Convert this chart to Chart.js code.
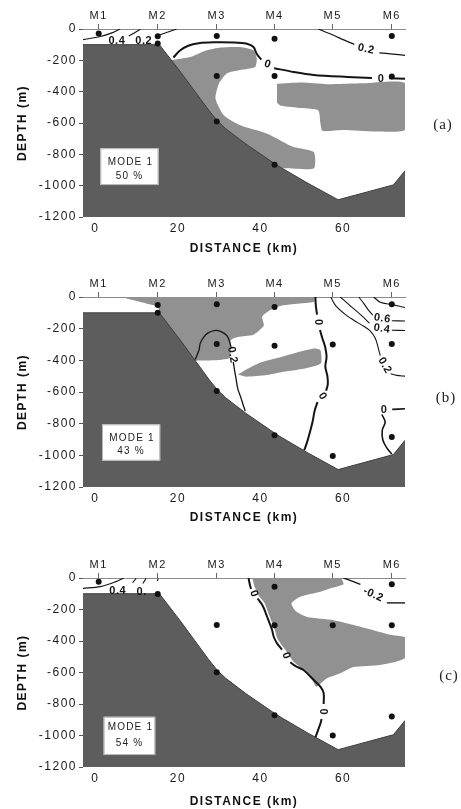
<!DOCTYPE html>
<html><head><meta charset="utf-8">
<script src="https://cdn.jsdelivr.net/npm/chart.js@4.4.1/dist/chart.umd.min.js"></script>
<style>
html,body{margin:0;padding:0;background:#fff;}
body{width:461px;height:809px;overflow:hidden;position:relative;}
canvas{position:absolute;left:0;}
</style></head><body>
<canvas id="pa"></canvas><canvas id="pb"></canvas><canvas id="pc"></canvas>
<script>
// ---------- axes / categories ----------
const mooringNames = ['M1','M2','M3','M4','M5','M6'];
const mooringKm = [0.8, 15.1, 29.4, 43.4, 57.5, 71.8];
const xTickValues = [0, 20, 40, 60];
const xTickLabels = ['0','20','40','60'];
const yTickValues = [0,-200,-400,-600,-800,-1000,-1200];
const yTickLabels = ['0','-200','-400','-600','-800','-1000','-1200'];
const modeLabel = 'MODE 1';
const modePercent = ['50 %','43 %','54 %'];
const panelLetters = ['(a)','(b)','(c)'];

// ---------- bathymetry ----------
const bathyKm =    [-3, 15.5, 20.5, 24, 27.5, 29.5, 31.5, 33.5, 36.5, 44, 51.5, 58.8, 72.2, 75];
const bathyDepth = [-100,-100,-270,-395,-520,-585,-635,-675,-735,-870,-985,-1090,-995,-905];

// ---------- instruments (mooring index, depth m) ----------
const instA_mooring = [0,1,1,2,2,2,3,3,3,5,5];
const instA_depth   = [-28,-47,-93,-45,-300,-590,-63,-300,-866,-45,-303];
const instB_mooring = [1,1,2,2,2,3,3,3,4,4,5,5,5];
const instB_depth   = [-50,-100,-45,-297,-593,-63,-308,-873,-300,-1004,-45,-297,-884];
const instC_mooring = [0,1,2,2,3,3,3,4,4,5,5,5];
const instC_depth   = [-24,-101,-298,-598,-55,-300,-872,-300,-1000,-40,-300,-880];

// ---------- panel (a) ----------
const shadeA1 = [[17.5,-200],[19.4,-194],[23,-179],[27,-136],[30.3,-118],[35.1,-115],[38.3,-136],[39.1,-189],[38.7,-243],[35.1,-262],[31.9,-283],[29.9,-349],[29.1,-445],[31.1,-551],[35.1,-615],[41.6,-668],[48,-753],[52.9,-785],[52.9,-891],[44.8,-891],[40,-950],[15,-300]];
const shadeA2 = [[44,-350],[50,-342],[56,-352],[65,-346],[75.2,-348],[75.2,-640],[68,-655],[60,-645],[55,-650],[54.5,-600],[54,-520],[50,-505],[45,-490],[44,-470]];
const zeroA1 = [[18.9,-182],[20.5,-137],[22.5,-107],[25,-91],[28.6,-85],[33.5,-86],[36.7,-94],[38.3,-115],[39.1,-160],[40.2,-195]];
const zeroA2 = [[43.3,-250],[48,-274],[52.9,-293],[61,-306],[67,-313]];
const zeroA3 = [[71.2,-315],[75,-318]];
const twoA1 = [[54,0],[57.7,-40],[60,-68],[62.7,-98]];
const twoA2 = [[68.8,-152],[72,-160],[75,-168]];
const fourA = [[-3,-68],[1.2,-48],[4,-25],[6,0]];
const shelfA1 = [[8.1,-45],[10.9,-2]];
const shelfA2 = [[14.8,-45],[19.7,0]];
const labelsA = [{x:41.7,y:-225,t:'0',a:20},{x:69.2,y:-318,t:'0',a:0},{x:65.6,y:-128,t:'0.2',a:12},{x:5.2,y:-78,t:'0.4',a:0},{x:11.7,y:-76,t:'0.2',a:0}];

// ---------- panel (b) ----------
const shadeB1 = [[7.5,0],[53,0],[53,-30],[50,-40],[45,-55],[42.4,-82],[40.4,-124],[40.8,-180],[38.3,-238],[34.5,-252],[32.8,-272],[32.8,-330],[32.5,-385],[29,-400],[24.5,-402],[21,-420],[16,-130],[15,-60],[12.5,-42],[7.5,-10]];
const shadeB2 = [[34.5,-490],[37,-452],[40,-414],[44.8,-380],[48.8,-350],[52.9,-325],[54.5,-335],[54.6,-420],[50,-455],[45,-475],[41.6,-492],[36.5,-503]];
const zeroB1 = [[53.3,0],[53.4,-55],[53.7,-112]];
const zeroB2 = [[54.4,-208],[55,-262],[55.6,-310],[56,-377],[55.7,-440],[56.2,-500],[56.3,-550],[55.9,-592]];
const zeroB3 = [[53.8,-664],[53.1,-720],[52.6,-790],[52,-850],[51.3,-915],[50.6,-968]];
const loopB1 = [[24.2,-395],[25.1,-335],[25.4,-293],[26.2,-255],[27.2,-228],[28.8,-212],[30.3,-217],[31.9,-245],[32.6,-290],[32.9,-322]];
const loopB2 = [[33.4,-410],[33.7,-460],[34.1,-520],[34.5,-580],[35.3,-640],[35.9,-690],[36.3,-720]];
const twoB1 = [[57,0],[58.2,-55],[60.5,-110],[62.5,-145],[65,-185],[66.6,-215],[67.8,-260],[68.4,-310],[69,-370]];
const twoB2 = [[71.5,-485],[73,-495],[75,-500]];
const fourB1 = [[59.3,0],[61.5,-50],[64.5,-118],[66.4,-165]];
const fourB2 = [[71.8,-210],[75,-212]];
const sixB1 = [[63.8,0],[65,-40],[66.2,-85],[67.2,-115]];
const sixB2 = [[71.8,-150],[75,-152]];
const eightB = [[67.4,0],[69,-33],[71.8,-48],[75,-66]];
const zeroB4 = [[71.9,-710],[75,-706]];
const zeroB5 = [[69.4,-742],[70.2,-790],[69.5,-840],[69.6,-900],[70.5,-950],[71.8,-992]];
const labelsB = [{x:54,y:-160,t:'0',a:90},{x:55,y:-628,t:'0',a:60},{x:33.2,y:-366,t:'0.2',a:80},{x:70.1,y:-432,t:'0.2',a:60},{x:69.4,y:-200,t:'0.4',a:8},{x:69.5,y:-136,t:'0.6',a:8},{x:69.9,y:-712,t:'0',a:0}];

// ---------- panel (c) ----------
const shadeC1 = [[38,0],[59.3,0],[60.1,-40],[57,-65],[54.5,-87],[49.6,-119],[47.5,-160],[48.5,-210],[51.3,-248],[57.7,-268],[65.8,-320],[71.4,-360],[75.2,-380],[75.2,-505],[69,-552],[62.5,-565],[59.3,-605],[56.1,-637],[53.5,-690],[52.5,-645],[50.5,-585],[48,-532],[46.2,-462],[45,-420],[44,-380],[43.5,-330],[42.3,-250],[41,-160],[39.5,-110],[38.5,-50]];
const zeroC1 = [[37.1,0],[37.4,-40],[37.7,-70]];
const zeroC2 = [[39.3,-130],[40.5,-175],[41.6,-246],[42.8,-330],[43.2,-373],[44,-415],[45.2,-455]];
const zeroC3 = [[47.2,-535],[48.5,-560],[50.4,-584],[52.9,-648],[54.5,-690],[55.3,-732],[55.3,-800]];
const zeroC4 = [[54.8,-895],[54.5,-925],[53.3,-1012]];
const negC1 = [[60.1,0],[62,-18],[64.2,-40]];
const negC2 = [[70.6,-158],[75,-158]];
const fourC = [[-3,-66],[1.2,-55],[4.8,-25],[6.9,0]];
const shelfC1 = [[9,-30],[9.9,-2]];
const shelfC2 = [[11.5,-35],[12.3,-2]];
const shelfC3 = [[15,-20],[15.2,-5]];
const labelsC = [{x:38.4,y:-100,t:'0',a:70},{x:46.2,y:-494,t:'0',a:70},{x:55.1,y:-849,t:'0',a:90},{x:67.3,y:-106,t:'-0.2',a:25},{x:5.4,y:-84,t:'0.4',a:0},{x:11.2,y:-88,t:'0.',a:0}];

// ---------- panel layout ----------
const FONT = '"Liberation Sans", Arial, Helvetica, sans-serif';
const panels = [
  {id:'pa', top:0,   areaH:188, titlePad:5.8, inst:[instA_mooring,instA_depth], shaded:[shadeA1,shadeA2],
   contours:[[zeroA1,2],[zeroA2,2],[zeroA3,2],[twoA1,1.2],[twoA2,1.2],[fourA,1.2],[shelfA1,1.2],[shelfA2,1.2]],
   labels:labelsA, box:[1.2,15.3,-761,-996], boxText:[14,28.4], pct:0, letterDx:38, letterDepth:-613},
  {id:'pb', top:268, areaH:190, titlePad:6.8, inst:[instB_mooring,instB_depth], shaded:[shadeB1,shadeB2],
   contours:[[zeroB1,2],[zeroB2,2],[zeroB3,2],[loopB1,1.3],[loopB2,1.3],[twoB1,1.1],[twoB2,1.1],[fourB1,1.1],[fourB2,1.1],[sixB1,1.1],[sixB2,1.1],[eightB,1.1],[zeroB4,1.6],[zeroB5,1.6]],
   labels:labelsB, box:[1.6,15.7,-804,-1034], boxText:[14,27.4], pct:1, letterDx:41, letterDepth:-638},
  {id:'pc', top:549, areaH:189, titlePad:2.8, inst:[instC_mooring,instC_depth], shaded:[shadeC1],
   contours:[[zeroC1,2],[zeroC2,2],[zeroC3,2],[zeroC4,2],[negC1,1.4],[negC2,1.4],[fourC,1.2],[shelfC1,1.1],[shelfC2,1.1],[shelfC3,1.1]],
   labels:labelsC, box:[2.0,14.5,-881,-1124], boxText:[10.6,26.6], pct:2, letterDx:44, letterDepth:-622}
];

const toPts = arr => arr.map(p => ({x:p[0], y:p[1]}));

function buildDatasets(P){
  const ds = [];
  ds.push({data: P.inst[0].map((m,i)=>({x:mooringKm[m], y:P.inst[1][i]})), showLine:false,
    pointRadius:3, pointHoverRadius:3, pointBackgroundColor:'#111', pointBorderWidth:0, order:0});
  P.contours.forEach(c => ds.push({data: toPts(c[0]), borderColor:'#151515', borderWidth:c[1],
    pointRadius:0, fill:false, tension:0.3, order:1}));
  ds.push({data: bathyKm.map((v,i)=>({x:v,y:bathyDepth[i]})), borderColor:'#3e3e3e', borderWidth:1,
    backgroundColor:'#5d5d5d', fill:'start', pointRadius:0, tension:0, order:2});
  P.shaded.forEach(s => ds.push({data: toPts(s), borderWidth:0, borderColor:'rgba(0,0,0,0)',
    backgroundColor:'#919191', fill:'shape', pointRadius:0, tension:0.2, order:3}));
  ds.forEach(d => { d.xAxisID = 'x'; d.yAxisID = 'y'; });
  return ds;
}

function makeAnnot(P){
  return {
    id: 'annot',
    beforeDraw(chart){ chart.ctx.letterSpacing = '1.5px'; },
    afterDatasetsDraw(chart){
      const ctx = chart.ctx, a = chart.chartArea, x = chart.scales.x, y = chart.scales.y;
      ctx.save();
      ctx.letterSpacing = '0.5px';
      ctx.fillStyle = '#151515';
      ctx.textAlign = 'center'; ctx.textBaseline = 'middle';
      ctx.font = 'bold 11px ' + FONT;
      P.labels.forEach(l => {
        ctx.save();
        ctx.translate(x.getPixelForValue(l.x), y.getPixelForValue(l.y));
        ctx.rotate(l.a * Math.PI / 180);
        ctx.fillText(l.t, 0, 0);
        ctx.restore();
      });
      // mode box
      const bx0 = x.getPixelForValue(P.box[0]), bx1 = x.getPixelForValue(P.box[1]);
      const by0 = y.getPixelForValue(P.box[2]), by1 = y.getPixelForValue(P.box[3]);
      ctx.fillStyle = '#fff';
      ctx.fillRect(bx0, by0, bx1 - bx0, by1 - by0);
      ctx.strokeStyle = '#b5b5b5'; ctx.lineWidth = 1;
      ctx.strokeRect(bx0 + 0.5, by0 + 0.5, bx1 - bx0 - 1, by1 - by0 - 1);
      ctx.fillStyle = '#222';
      ctx.font = '10px ' + FONT;
      ctx.letterSpacing = '1.2px';
      const cx = (bx0 + bx1) / 2;
      ctx.fillText(modeLabel, cx + 1, by0 + P.boxText[0]);
      ctx.fillText(modePercent[P.pct], cx, by0 + P.boxText[1]);
      // panel letter
      ctx.font = '15px "Liberation Serif", "Times New Roman", serif';
      ctx.letterSpacing = '1px';
      ctx.fillStyle = '#222';
      ctx.fillText(panelLetters[P.pct], a.right + P.letterDx, y.getPixelForValue(P.letterDepth));
      ctx.restore();
    }
  };
}

panels.forEach(P => {
  const cv = document.getElementById(P.id);
  const H = P.areaH + 29 + 45;
  cv.width = 461; cv.height = H;
  cv.style.top = P.top + 'px';
  new Chart(cv, {
    type: 'line',
    data: { datasets: buildDatasets(P) },
    options: {
      responsive: false, animation: false, events: [],
      layout: { padding: { left: 0, right: 56, top: 0, bottom: 0 } },
      plugins: { legend: { display: false }, tooltip: { enabled: false } },
      scales: {
        x: {
          type: 'linear', position: 'bottom', min: -3, max: 75,
          afterBuildTicks: s => { s.ticks = xTickValues.map(v => ({ value: v })); },
          afterFit: s => { s.height = 45; },
          ticks: { callback: (v, i) => xTickLabels[i], color: '#1a1a1a', padding: 4, maxRotation: 0, autoSkip: false,
                   font: { family: FONT, size: 12 } },
          grid: { display: true, drawOnChartArea: false, drawTicks: false },
          border: { display: false },
          title: { display: true, text: 'DISTANCE (km)', color: '#111',
                   font: { family: FONT, size: 12, weight: 'bold' }, padding: { top: 0, bottom: P.titlePad } }
        },
        xt: {
          type: 'linear', axis: 'x', position: 'top', min: -3, max: 75,
          afterBuildTicks: s => { s.ticks = mooringKm.map(v => ({ value: v })); },
          afterFit: s => { s.height = 29; },
          ticks: { callback: (v, i) => mooringNames[i], color: '#1a1a1a', padding: 1, maxRotation: 0, autoSkip: false,
                   font: { family: FONT, size: 11 } },
          grid: { display: true, drawOnChartArea: false, drawTicks: true, tickLength: 5, color: '#666', lineWidth: 1 },
          border: { display: true, color: '#8a8a8a', width: 1 }
        },
        y: {
          type: 'linear', position: 'left', min: -1200, max: 0,
          afterBuildTicks: s => { s.ticks = yTickValues.map(v => ({ value: v })); },
          afterFit: s => { s.width = 83; },
          ticks: { callback: (v, i) => yTickLabels[i], color: '#1a1a1a', padding: 2, autoSkip: false,
                   font: { family: FONT, size: 12 } },
          grid: { display: true, drawOnChartArea: false, drawTicks: true, tickLength: 4, color: '#555' },
          border: { display: false },
          title: { display: true, text: 'DEPTH (m)', color: '#111',
                   font: { family: FONT, size: 12, weight: 'bold' }, padding: { top: 15, bottom: 0 } }
        }
      }
    },
    plugins: [makeAnnot(P)]
  });
});
</script></body></html>
